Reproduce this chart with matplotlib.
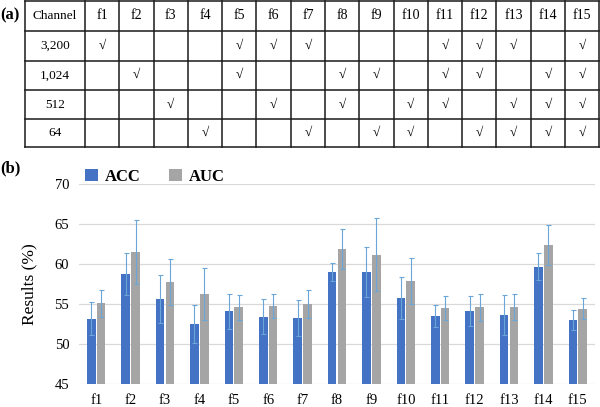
import numpy as np
import matplotlib
matplotlib.use("Agg")
import matplotlib.pyplot as plt
from matplotlib.patches import Patch

plt.rcParams['font.family'] = ['Liberation Serif', 'DejaVu Serif']

# ---- data ----
features = [f"f{i}" for i in range(1, 16)]
channels = ["3,200", "1,024", "512", "64"]
checks = [
    [1, 0, 0, 0, 1, 1, 1, 0, 0, 0, 1, 1, 1, 0, 1],
    [0, 1, 0, 0, 1, 0, 0, 1, 1, 0, 1, 1, 0, 1, 1],
    [0, 0, 1, 0, 0, 1, 0, 1, 0, 1, 1, 0, 1, 1, 1],
    [0, 0, 0, 1, 0, 0, 1, 0, 1, 1, 0, 1, 1, 1, 1],
]
acc = [53.2, 58.75, 55.6, 52.5, 54.1, 53.45, 53.3, 59.0, 59.0, 55.8, 53.5, 54.15, 53.65, 59.7, 53.05]
acc_err = [2.1, 2.6, 3.0, 2.4, 2.2, 2.2, 2.2, 1.1, 3.1, 2.65, 1.4, 1.9, 2.45, 1.7, 1.3]
auc = [55.1, 61.5, 57.8, 56.3, 54.6, 54.8, 55.0, 61.9, 61.2, 57.9, 54.55, 54.6, 54.65, 62.45, 54.45]
auc_err = [1.7, 4.0, 2.9, 3.3, 1.55, 1.5, 1.75, 2.5, 4.6, 2.85, 1.5, 1.65, 1.6, 2.5, 1.35]
yticks = [45, 50, 55, 60, 65, 70]

W, H = 600, 407
fig = plt.figure(figsize=(W / 100, H / 100), dpi=100)

# ---- table (a) ----
axt = fig.add_axes([0, 0, 1, 1])
axt.set_xlim(0, W)
axt.set_ylim(H, 0)
axt.axis('off')
x_left, ch_w, x_right = 25, 60, 599.3
f_w = (x_right - x_left - ch_w) / len(features)
col_edges = [x_left, x_left + ch_w] + [x_left + ch_w + f_w * (i + 1) for i in range(len(features))]
row_edges = [0.8, 31, 60.5, 90, 119.3, 146.7]
lc = '#1a1a1a'
for xe in col_edges:
    axt.plot([xe, xe], [row_edges[0], row_edges[-1]], color=lc, lw=1.1, solid_capstyle='projecting')
for ye in row_edges:
    axt.plot([col_edges[0], col_edges[-1]], [ye, ye], color=lc, lw=1.1, solid_capstyle='projecting')

def cx(i):
    return (col_edges[i] + col_edges[i + 1]) / 2

def cy(j):
    return (row_edges[j] + row_edges[j + 1]) / 2

fs_t = 9.5
axt.text(cx(0), cy(0), "Channel", ha='center', va='center', fontsize=fs_t)
for i, f in enumerate(features):
    axt.text(cx(i + 1), cy(0), f, ha='center', va='center', fontsize=fs_t + 0.5)
for j, ch in enumerate(channels):
    axt.text(cx(0), cy(j + 1), ch, ha='center', va='center', fontsize=fs_t)
    for i in range(len(features)):
        if checks[j][i]:
            axt.text(cx(i + 1), cy(j + 1), "√", ha='center', va='center', fontsize=fs_t)
axt.text(0, 15, "(a)", ha='left', va='center', fontsize=12, fontweight='bold')
axt.text(0, 168, "(b)", ha='left', va='center', fontsize=12, fontweight='bold')

# ---- bar chart (b) ----
left, right, top, bottom = 79, 595, 184.3, 384.3
ax = fig.add_axes([left / W, (H - bottom) / H, (right - left) / W, (bottom - top) / H])
x = np.arange(len(features))
bw = 0.25
off = 0.145
blue = '#4472C4'
gray = '#A5A5A5'
ecol = '#6AA6D8'
ekw = dict(ecolor=ecol, elinewidth=0.8, capsize=1.8, capthick=0.8)
ax.bar(x - off, acc, bw, color=blue, yerr=acc_err, error_kw=ekw, zorder=3)
ax.bar(x + off, auc, bw, color=gray, yerr=auc_err, error_kw=ekw, zorder=3)
ax.set_xlim(-0.5, len(features) - 0.5)
ax.set_ylim(45, 70)
ax.set_yticks(yticks)
ax.set_yticklabels([str(v) for v in yticks], fontsize=10.5)
ax.set_xticks(x)
ax.set_xticklabels(features, fontsize=10.5)
ax.tick_params(axis='x', length=0, pad=7)
ax.tick_params(axis='y', length=0, pad=7)
for s in ax.spines.values():
    s.set_visible(False)
ax.yaxis.grid(True, color='#D9D9D9', lw=0.9, zorder=0)
ax.set_axisbelow(True)
ax.set_ylabel("Results (%)", fontsize=12.5, labelpad=12)

handles = [Patch(facecolor=blue, label='ACC'), Patch(facecolor=gray, label='AUC')]
fig.legend(handles=handles, loc='center left', bbox_to_anchor=(85 / W, 1 - 177 / H), ncol=2,
           frameon=False, handlelength=0.75, handleheight=0.75, handletextpad=0.45,
           columnspacing=1.7, prop={'weight': 'bold', 'size': 12}, borderpad=0, borderaxespad=0)

fig.savefig("out.png", dpi=100)
